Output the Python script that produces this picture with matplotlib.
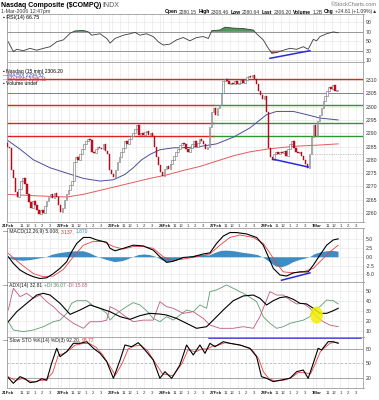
import numpy as np
import matplotlib.pyplot as plt
from matplotlib.patches import Ellipse
from matplotlib.offsetbox import TextArea, HPacker, AnchoredOffsetbox

plt.rcParams['font.family'] = ['Liberation Sans', 'DejaVu Sans']

# 15 min bars, 21 Feb 2006 - 1 Mar 2006 12:45
first_open = 2286.5
closes = [
    2285, 2284.5, 2276, 2273, 2268, 2266, 2269, 2272, 2273, 2271, 2267, 2264, 2262,
    2264.5, 2263, 2261, 2259.5, 2261, 2260, 2262.5, 2264.5, 2266, 2267, 2265.5, 2267.5,
    2266, 2263, 2260.5, 2262, 2265, 2267, 2268.5, 2270.5, 2272, 2279, 2281, 2280, 2282,
    2284, 2286, 2287, 2288, 2287.5, 2283, 2282.5, 2284, 2285, 2284.5, 2284, 2286, 2283.5,
    2282, 2276, 2274.5, 2273.5, 2276, 2279, 2281, 2283, 2284.5, 2287, 2286, 2288, 2289,
    2290, 2291.5, 2293, 2289.5, 2290, 2289.5, 2290.5, 2291, 2289.5, 2290, 2289, 2285, 2281,
    2278, 2275.5, 2274, 2276.5, 2277.5, 2276.5, 2278.5, 2280, 2281.5, 2283, 2284, 2285.5,
    2286.5, 2286, 2284, 2283, 2284.5, 2286, 2287, 2285, 2286.5, 2288, 2287, 2286, 2284, 2285,
    2292.5, 2298, 2299.5, 2297, 2299.5, 2300.5, 2305, 2309.5, 2310.5, 2309.5, 2308.5, 2309,
    2308.5, 2309.5, 2308.5, 2309, 2310, 2309, 2310, 2311, 2311.5, 2311, 2312, 2310.5, 2308.5, 2306,
    2304.5, 2303, 2304, 2298, 2284.5, 2281, 2280, 2282, 2283, 2282, 2283, 2282.5, 2283.5,
    2281.5, 2284, 2286, 2287, 2284.5, 2283, 2282.5, 2283, 2281.5, 2280, 2278.5, 2277, 2282,
    2288.5, 2293, 2289, 2294.5, 2297, 2299.5, 2302, 2304, 2306, 2307.5, 2306.5, 2308, 2306, 2306.2,
]

# moving averages (bar position, value)
ma50_x = [0.2, 6.9, 13.7, 22.2, 30.7, 39.2, 47.7, 54.5, 60.4, 64.6, 68.9, 73.1, 78.2, 85.0,
          91.8, 98.6, 107.1, 115.6, 124.1, 132.6, 137.7, 146.2, 153.0, 159.8, 169.1]
ma50_v = [2287.5, 2284, 2280, 2277, 2275, 2273, 2272, 2272.5, 2274.5, 2277, 2280, 2282, 2283.8,
          2284.5, 2284.6, 2285, 2286, 2288.5, 2292, 2297, 2298.2, 2298.2, 2297, 2295.7, 2295]
ma200_x = [0.2, 13.7, 30.7, 39.2, 47.7, 56.2, 64.6, 73.1, 81.6, 90.1, 98.6, 107.1, 115.6,
           124.1, 132.6, 141.1, 149.6, 158.1, 169.1]
ma200_v = [2267, 2266.5, 2266, 2267, 2268.5, 2270, 2271.5, 2273, 2274.3, 2276, 2277.5, 2279.5,
           2281.5, 2283, 2284, 2284.7, 2285.2, 2285.5, 2286]

# RSI(14)
rsi_x = [0.9, 3.5, 5.2, 8.6, 12.0, 15.4, 18.8, 22.2, 25.6, 29.0, 32.4, 34.9, 39.2, 41.7, 43.4,
         47.7, 51.1, 52.8, 55.3, 59.6, 63.0, 65.5, 68.0, 71.4, 74.8, 77.4, 79.9, 83.3, 86.7,
         90.1, 93.5, 96.9, 100.3, 102.9, 104.6, 108.8, 111.4, 115.6, 120.7, 125.8, 127.5,
         130.9, 133.5, 135.2, 137.7, 141.1, 144.5, 147.9, 151.3, 153.8, 156.4, 158.1, 159.8,
         163.2, 166.6, 169.1]
rsi_v = [49, 28, 33, 30, 35, 31, 35, 38.5, 49, 53, 67, 72, 73, 70, 63, 66, 56, 46, 56, 63, 66,
         69, 63, 66, 60, 49, 42, 44, 53, 58, 51, 58, 60, 56, 72.5, 74, 80, 78, 77, 74, 66, 53,
         35, 24.5, 26, 31, 35, 33, 38.5, 33, 54, 51, 60, 66, 70, 68]

# MACD(12,26,9)
macd_x = [0.9, 3.5, 6.9, 10.3, 13.7, 17.1, 20.5, 23.9, 27.3, 30.7, 33.2, 35.8, 39.2, 42.6,
          46.0, 51.1, 52.8, 55.3, 59.6, 64.6, 69.7, 74.8, 78.2, 81.6, 85.0, 90.1, 95.2, 100.3,
          103.7, 107.1, 110.5, 113.9, 117.3, 122.4, 127.5, 130.9, 133.5, 136.0, 139.4, 142.8,
          146.2, 149.6, 153.8, 156.4, 159.8, 163.2, 166.6, 169.1]
macd_v = [0, -1.9, -3.8, -4.9, -5.7, -6.2, -6.0, -4.8, -3.3, -1.4, 1.4, 3.8, 5.5, 5.5, 4.8,
          4.1, 2.4, 1.7, 2.4, 3.3, 3.1, 1.9, 0, -1.6, -1.3, -0.2, 0, 0.8, 1.1, 3.8, 5.9, 6.9,
          6.9, 6.5, 5.5, 3.3, 0, -3.3, -5.2, -5.5, -4.6, -4.3, -4.3, -2.4, 0.5, 3.3, 4.8, 5.1]
sig_x = [0.9, 6.9, 13.7, 18.8, 23.9, 29.0, 34.1, 39.2, 44.3, 49.4, 54.5, 59.6, 64.6, 69.7,
         74.8, 79.9, 85.0, 91.8, 98.6, 103.7, 108.8, 113.9, 119.0, 125.8, 130.9, 134.3,
         137.7, 141.1, 146.2, 151.3, 156.4, 159.8, 164.9, 169.1]
sig_v = [0.95, -1.9, -4.8, -5.7, -5.5, -3.6, 0, 3.3, 4.4, 4.3, 2.9, 2.2, 2.9, 2.9, 2.4, 0,
         -1.1, -0.5, 0.2, 0.8, 3.3, 5.5, 6.2, 5.5, 3.8, 1.0, -1.9, -4.3, -4.6, -4.3, -3.3,
         -1.4, 1.4, 3.3]
hist_x = [0.9, 4, 8, 12, 16, 20, 23, 27, 31, 35, 39, 42, 45, 47.7, 51, 55, 59, 62, 64.6, 67,
          70, 73, 76, 79, 82, 85, 88, 91, 94, 97, 100, 103, 106, 109, 112, 116, 120, 124,
          128, 131, 134, 137, 140, 143, 146, 149, 152, 154.7, 157, 160, 163, 166, 169]
hist_v = [-0.3, -0.8, -1.0, -0.8, -0.4, 0.0, 0.7, 1.2, 1.5, 1.7, 1.7, 1.2, 0.4, -0.2, -0.8,
          -1.4, -1.1, -0.5, 0.1, 0.6, 0.8, 0.6, 0.1, -0.8, -1.4, -1.1, -0.6, -0.1, 0.3, 0.6,
          0.7, 0.5, 1.2, 1.8, 1.9, 1.7, 1.3, 1.0, 0.6, -0.2, -1.4, -2.6, -2.9, -2.3, -1.4,
          -0.8, -0.4, 0.1, 0.9, 1.4, 1.7, 1.8, 1.6]

# ADX(14)
adx_x = [0.9, 5.2, 10.3, 15.4, 18.8, 22.2, 27.3, 32.4, 37.5, 42.6, 47.7, 52.8, 57.9, 63.0,
         68.0, 73.1, 78.2, 81.6, 86.7, 91.8, 96.9, 102.0, 105.4, 110.5, 115.6, 120.7, 125.8,
         129.2, 132.6, 136.0, 139.4, 142.8, 146.2, 149.6, 153.0, 156.4, 159.8, 163.2, 166.6, 169.1]
adx_v = [19.4, 29.3, 37.6, 45.8, 47.5, 45.8, 37.6, 26.7, 31, 36, 32.7, 29.3, 24.4, 21.8, 25.4,
         27.7, 27, 26, 22.7, 17.8, 12.9, 14.5, 21, 31, 40.2, 44.9, 45.8, 42.6, 36, 40.2, 43.2,
         44.2, 41.6, 37.6, 37, 32.7, 27.7, 27.7, 30.3, 32.7]
pdi_x = [0.9, 3.5, 8.6, 13.7, 18.8, 23.9, 27.3, 30.7, 33.2, 35.8, 40.9, 44.3, 47.7, 51.1, 52.8,
         56.2, 61.2, 64.6, 68.0, 71.4, 74.8, 78.2, 81.6, 85.0, 88.4, 91.8, 95.2, 98.6, 102.0,
         103.7, 107.1, 112.2, 117.3, 122.4, 127.5, 130.9, 134.3, 137.7, 141.1, 144.5, 147.9,
         151.3, 154.7, 156.4, 159.8, 163.2, 166.6, 169.1]
pdi_v = [19.4, 11.2, 9.6, 11.2, 14.5, 19.4, 21, 27.7, 37.6, 40.2, 40.2, 35, 32.7, 27.7, 21,
         27.7, 34.3, 38.3, 36, 30.3, 22.7, 19.4, 24.4, 21, 26, 31, 29.3, 36, 32.7, 49.2, 50.8,
         55.8, 50.8, 45.8, 39.2, 24.4, 17.8, 12.9, 14.5, 17.8, 19.4, 21, 24.4, 31, 34.3, 40.9,
         40.2, 37]
mdi_x = [0.9, 3.5, 6.9, 10.3, 13.7, 17.1, 20.5, 23.9, 27.3, 30.7, 34.1, 39.2, 42.6, 47.7,
         51.1, 52.8, 56.2, 59.6, 64.6, 69.7, 74.8, 78.2, 81.6, 85.0, 90.1, 95.2, 100.3, 103.7,
         108.8, 115.6, 120.7, 125.8, 129.2, 132.6, 134.3, 137.7, 141.1, 144.5, 147.9, 151.3,
         154.7, 158.1, 161.5, 164.9, 169.1]
mdi_v = [31, 52.5, 44.2, 47.5, 42.6, 45.8, 39.2, 34.3, 27.7, 22.7, 17.8, 12.9, 19.4, 19.4, 21,
         34.3, 31, 26, 19.4, 21, 21, 39.2, 34.3, 32.7, 27.7, 29.3, 22.7, 16.1, 12.9, 12.9, 14.5,
         12.9, 24.4, 40.9, 49.2, 45.8, 45.8, 40.9, 37, 37.6, 32.7, 24.4, 19.4, 16.1, 14.5]

# Slow stochastic
stok_x = [0.9, 3.5, 6.9, 9.4, 12.0, 15.4, 18.0, 20.5, 23.0, 25.6, 27.3, 30.7, 34.1, 37.5,
          40.9, 44.3, 47.7, 51.1, 54.5, 57.9, 60.4, 63.8, 67.2, 70.6, 74.8, 78.2, 80.8, 84.2,
          88.4, 91.8, 95.2, 98.6, 101.2, 103.7, 106.3, 110.5, 113.9, 119.0, 124.1, 127.5,
          130.0, 132.6, 136.0, 139.4, 144.5, 147.9, 151.3, 153.8, 156.4, 158.9, 160.6, 164.0,
          166.6, 169.1]
stok_v = [19.9, 8.2, 22, 17.7, 9.6, 11.7, 17.7, 14.5, 50, 81.4, 63.9, 74.3, 91.8, 91.8, 95.2,
          81.4, 70.9, 53.4, 18.6, 56.9, 88.3, 84.7, 93.1, 77.8, 56.9, 18.6, 32.4, 18.6, 46.4,
          88.3, 67.4, 88.3, 70.9, 91.8, 84.7, 95.2, 91.8, 88.3, 81.4, 63.9, 22, 18.6, 11.7,
          14.5, 18.6, 32.4, 35.9, 18.6, 50, 81.4, 77.8, 95.2, 95.2, 91.8]
stod_x = [0.9, 4.5, 8, 11, 14, 17, 20, 23.5, 26.5, 29, 32, 35, 38.5, 42, 45.5, 49, 52.5, 55.5,
          59, 62, 65, 68.5, 72, 76, 79.5, 82, 85, 89.5, 92.5, 96.5, 99.5, 102.5, 105, 108,
          111.5, 115, 120, 125, 128.5, 131, 134, 137, 141, 145.5, 149, 152.5, 155, 157.5, 160,
          162, 165, 168, 169.1]
stod_v = [22, 14, 18, 14, 11, 14, 15, 30, 68, 70, 78, 88, 91, 92, 84, 68, 45, 25, 50, 80, 86,
          88, 76, 50, 28, 26, 24, 50, 78, 74, 80, 80, 86, 88, 93, 91, 87, 79, 60, 32, 17, 13,
          14, 21, 31, 30, 28, 50, 74, 82, 92, 94, 93.8]

days = ['21Feb', '22Feb', '23Feb', '24Feb', '27Feb', '28Feb', '1Mar']
hours = ['11', '12', '1', '2', '3']
hour_bars = [7.8, 10.8, 14.3, 18.3, 22.3]
per_day = 26

W, H = 379, 400
fig = plt.figure(figsize=(W / 100, H / 100), dpi=100)
fig.patch.set_facecolor('white')

GRID = '#e3e3e3'
FRAME = '#9c9c9c'
TXT = '#333333'


def panel(top, bottom, ylim, yticks, ylabels):
    ax = fig.add_axes([6.5 / W, 1 - bottom / H, 357 / W, (bottom - top) / H])
    ax.set_xlim(0, per_day * len(days))
    ax.set_ylim(*ylim)
    vx = [d * per_day + h for d in range(len(days)) for h in [0, 2, 6, 10, 14, 18, 22]]
    ax.set_xticks(vx)
    ax.set_xticklabels([])
    ax.set_yticks(yticks)
    ax.set_yticklabels(ylabels)
    ax.yaxis.tick_right()
    ax.tick_params(length=0, labelsize=3.7, colors=TXT, pad=1.8)
    ax.grid(True, color=GRID, lw=0.4)
    ax.set_axisbelow(True)
    for s in ax.spines.values():
        s.set_color(FRAME)
        s.set_linewidth(0.6)
    return ax


def ptext(x, y, parts, loc='center left', size=4.0):
    boxes = [TextArea(t, textprops=dict(color=c, fontsize=size, fontweight=w)) for t, c, w in parts]
    pack = HPacker(children=boxes, align='baseline', pad=0, sep=1.0)
    ab = AnchoredOffsetbox(loc=loc, child=pack, pad=0, borderpad=0, frameon=False,
                           bbox_to_anchor=(x / W, 1 - y / H), bbox_transform=fig.transFigure)
    fig.add_artist(ab)


def date_row(ax, ypx):
    tr = ax.get_xaxis_transform()
    h = ax.get_position().height * H
    yy = -(ypx) / h
    for d, name in enumerate(days):
        x0 = d * per_day
        ax.text(x0 - 2.6 if d == 0 else x0 - 0.3, yy, name, transform=tr, fontsize=3.1,
                fontweight='bold', ha='left', va='center', color='#222222', clip_on=False)
        for hb, lab in zip(hour_bars, hours):
            ax.text(x0 + hb, yy, lab, transform=tr, fontsize=3.1,
                    ha='center', va='center', color=TXT, clip_on=False)


# header
ptext(1, 5.5, [('Nasdaq Composite ($COMPQ)', 'black', 'bold'), ('INDX', '#555555', 'normal')], size=5)
ptext(1, 11.5, [('1-Mar-2006 12:47pm', TXT, 'normal')], size=3.8)
ptext(377, 5, [('\u00a9StockCharts.com', '#777777', 'normal')], loc='center right', size=4)
ptext(377, 12, [('Open', 'black', 'bold'), ('2280.15', TXT, 'normal'), ('High', 'black', 'bold'),
                ('2308.46', TXT, 'normal'), ('Low', 'black', 'bold'), ('2280.64', TXT, 'normal'),
                ('Last', 'black', 'bold'), ('2306.20', TXT, 'normal'), ('Volume', 'black', 'bold'),
                ('1.2B', TXT, 'normal'), ('Chg', 'black', 'bold'), ('+24.61 (+1.09%)\u25b2', TXT, 'normal')],
      loc='center right', size=3.6)

# RSI
ax = panel(14, 62, (6, 108), [10, 30, 50, 70, 90], ['10', '30', '50', '70', '90'])
rx, rv = np.array(rsi_x), np.array(rsi_v)
ax.axhline(70, color='#8a8a8a', lw=0.6)
ax.axhline(30, color='#8a8a8a', lw=0.6)
ax.fill_between(rx, rv, 70, where=rv > 70, interpolate=True, color='#4f9a5a', lw=0)
ax.fill_between(rx, rv, 30, where=rv < 30, interpolate=True, color='#c05050', lw=0)
ax.plot(rx, rv, color='#3a3a3a', lw=0.6)
ax.plot([134.3, 154.7], [13.8, 30], color='#2b2bd6', lw=1.1, clip_on=False)
ptext(3, 17, [('\u25aa RSI(14) 66.75', 'black', 'normal')], size=3.8)

# price
ax = panel(62, 222, (2256.6, 2316.8), list(range(2260, 2311, 5)),
           [str(v) for v in range(2260, 2311, 5)])
c = np.array(closes)
o = np.array([first_open] + closes[:-1])
pos = np.arange(len(c)) + 0.5
up = c >= o
body = np.maximum(np.abs(c - o), 0.3)
low = np.minimum(o, c)
ax.axhline(2310.3, color='#dd2222', lw=1.0)
ax.plot([0, 130], [2305.1, 2305.1], color='#dd4444', lw=0.6)
ax.plot([130, 182], [2305.1, 2305.1], color='#3a9a3a', lw=0.6)
for lvl in [2300.6, 2293.8, 2288.8]:
    ax.plot([0, 105.4], [lvl, lvl], color='#dd2222', lw=1.0)
    ax.plot([105.4, 182], [lvl, lvl], color='#2e962e', lw=1.0)
ax.plot([156.4, 182], [2282, 2282], color='#888888', lw=0.5, ls=(0, (1, 1.5)))
ax.plot(ma50_x, ma50_v, color='#4d4d9e', lw=0.7)
ax.plot(ma200_x, ma200_v, color='#e85a5a', lw=0.7)
ax.bar(pos[up], body[up], bottom=low[up], width=0.8, facecolor='white', edgecolor='#6a6a6a', lw=0.4, zorder=3)
ax.bar(pos[~up], body[~up], bottom=low[~up], width=0.8, facecolor='#cf1020', edgecolor='#a00010', lw=0.3, zorder=3)
ax.plot([136.0, 153.8], [2280.2, 2277.3], color='#2b2bd6', lw=1.1, zorder=4)
date_row(ax, 3.5)
ptext(3, 71, [('\u25aa Nasdaq (15 min) 2306.20', 'black', 'normal')], size=3.6)
ptext(3, 75.3, [('\u2014MA(50) 2294.52', '#3a3ab0', 'normal')], size=3.6)
ptext(3, 79.6, [('\u2014MA(200) 2285.11', '#e03030', 'normal')], size=3.6)
ptext(3, 83.9, [('\u25aa Volume undef', 'black', 'normal')], size=3.6)

# MACD
ax = panel(228, 282, (-7.2, 8.2), [-5, -2.5, 0, 2.5, 5], ['-5.0', '-2.5', '0.0', '2.5', '5.0'])
ax.fill_between(hist_x, hist_v, 0, color='#3d8cc4', lw=0)
ax.plot(sig_x, sig_v, color='#e84040', lw=0.6)
ax.plot(macd_x, macd_v, color='black', lw=0.8)
ax.plot([140.2, 154.7], [-6.7, -4.6], color='#2b2bd6', lw=1.1)
ptext(3, 231.5, [('\u2014 MACD(12,26,9) 5.008,', '#222222', 'normal'), ('3.137,', '#e03030', 'normal'),
                 ('1.870', '#3d8cc4', 'normal')], size=3.6)

# ADX
ax = panel(282, 337, (4.3, 58.7), [10, 20, 30, 40, 50], ['10', '20', '30', '40', '50'])
ax.plot(pdi_x, pdi_v, color='#5f9a72', lw=0.6)
ax.plot(mdi_x, mdi_v, color='#c2587a', lw=0.6)
ax.plot(adx_x, adx_v, color='black', lw=0.8)
ax.add_patch(Ellipse((158.1, 26), 6.5, 17, facecolor='#f2ee00', edgecolor='none', alpha=0.85, zorder=4))
ptext(3, 285.5, [('\u2014 ADX(14) 32.81', '#222222', 'normal'), ('+DI 36.07', '#4f8a62', 'normal'),
                 ('-DI 15.65', '#c2587a', 'normal')], size=3.6)

# slow stochastic
ax = panel(337, 388, (-1.7, 105), [20, 50, 80], ['20', '50', '80'])
ax.axhline(80, color='#9a9a9a', lw=0.6)
ax.axhline(20, color='#9a9a9a', lw=0.6)
ax.axhline(50, color='#aaaaaa', lw=0.5, ls=(0, (3, 3)))
ax.plot(stod_x, stod_v, color='#e84040', lw=0.6)
ax.plot(stok_x, stok_v, color='black', lw=0.8)
ax.plot([103.2, 180.7], [103, 103], color='#2020c8', lw=1.1, clip_on=False)
date_row(ax, 5)
ptext(3, 340.5, [('\u2014 Slow STO %K(14) %D(3) 92.20,', '#222222', 'normal'), ('93.77', '#e03030', 'normal')],
      size=3.6)

fig.savefig('out.png', dpi=100, facecolor='white')
